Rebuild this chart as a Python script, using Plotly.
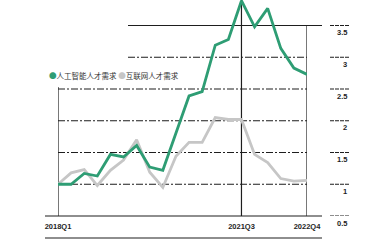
import plotly.graph_objects as go

quarters = [f"{y}Q{q}" for y in range(2018, 2023) for q in range(1, 5)]
ai_demand = [1.0, 1.0, 1.17, 1.13, 1.47, 1.43, 1.61, 1.27, 1.22, 1.80,
             2.39, 2.46, 3.19, 3.28, 3.89, 3.48, 3.77, 3.14, 2.83, 2.73]
net_demand = [1.0, 1.18, 1.23, 0.98, 1.22, 1.38, 1.70, 1.19, 0.95, 1.44,
              1.66, 1.66, 2.05, 2.02, 2.02, 1.47, 1.34, 1.09, 1.05, 1.06]
series_names = ["人工智能人才需求", "互联网人才需求"]
x_tick_labels = ["2018Q1", "2021Q3", "2022Q4"]
y_ticks = [0.5, 1, 1.5, 2, 2.5, 3, 3.5]
y_tick_labels = ["0.5", "1", "1.5", "2", "2.5", "3", "3.5"]

GREEN = "#2e9d74"
GREY = "#c6c6c6"
INK = "#1e1e1e"
W, H = 372, 240
L, R, T, B = 58, 65, 0, 24
pw, ph = W - L - R, H - T - B
n = len(quarters)
xs = list(range(n))
px_per_unit = 63.5
ytop = 0.5 + ph / px_per_unit


def pxx(px):  # pixel -> paper x
    return (px - L) / pw


def pxy(py):  # pixel -> paper y
    return (H - B - py) / ph


fig = go.Figure()
fig.add_trace(go.Scatter(x=xs, y=net_demand, mode="lines", name=series_names[1],
                         line=dict(color=GREY, width=2.8), showlegend=False, cliponaxis=False))
fig.add_trace(go.Scatter(x=xs, y=ai_demand, mode="lines", name=series_names[0],
                         line=dict(color=GREEN, width=2.8), showlegend=False, cliponaxis=False))

shapes = []
dd = "7px,2px,2px,2px"
for v in [1, 1.5, 2, 2.5]:
    shapes.append(dict(type="line", xref="x", yref="y", x0=0, x1=n - 1, y0=v, y1=v,
                       line=dict(color=INK, width=1.1, dash=dd), layer="below"))
shapes.append(dict(type="line", xref="paper", yref="y", x0=pxx(128), x1=1, y0=3, y1=3,
                   line=dict(color=INK, width=1.1, dash=dd), layer="below"))
shapes.append(dict(type="line", xref="paper", yref="y", x0=pxx(128), x1=pxx(322), y0=3.5, y1=3.5,
                   line=dict(color=INK, width=1.2), layer="below"))
# verticals
shapes.append(dict(type="line", xref="x", yref="y", x0=0, x1=0, y0=0.5, y1=2.53,
                   line=dict(color=INK, width=1.2), layer="below"))
shapes.append(dict(type="line", xref="x", yref="paper", x0=14, x1=14, y0=0, y1=1,
                   line=dict(color=INK, width=1.2), layer="below"))
shapes.append(dict(type="line", xref="x", yref="y", x0=n - 1, x1=n - 1, y0=0.5, y1=3.5,
                   line=dict(color=INK, width=1.2), layer="below"))
# bottom rules
shapes.append(dict(type="line", xref="paper", yref="paper", x0=pxx(45), x1=pxx(322), y0=0, y1=0,
                   line=dict(color=INK, width=1.2)))
shapes.append(dict(type="line", xref="paper", yref="paper", x0=pxx(45), x1=pxx(322),
                   y0=pxy(238), y1=pxy(238), line=dict(color=INK, width=1.2)))
# right tick dashes
for v in y_ticks:
    shapes.append(dict(type="line", xref="paper", yref="y", x0=pxx(330), x1=pxx(349), y0=v, y1=v,
                       line=dict(color=INK, width=1.1, dash="4px,1px")))

annotations = []
for v, t in zip(y_ticks, y_tick_labels):
    annotations.append(dict(xref="paper", yref="y", x=pxx(349), y=v, yshift=-7, text=t,
                            showarrow=False, xanchor="right", yanchor="middle",
                            font=dict(family="Liberation Sans", size=7.5, color=INK, weight="bold")))
annotations.append(dict(
    xref="paper", yref="paper", x=pxx(47), y=pxy(75), xanchor="left", yanchor="middle",
    showarrow=False,
    text=(f"<span style='color:{GREEN}'>●</span>{series_names[0]} "
          f"<span style='color:{GREY}'>●</span>{series_names[1]}"),
    font=dict(family="Noto Sans CJK SC", size=7.5, color="#333333")))

fig.update_layout(
    width=W, height=H, margin=dict(l=L, r=R, t=T, b=B),
    paper_bgcolor="white", plot_bgcolor="white",
    shapes=shapes, annotations=annotations, showlegend=False,
    xaxis=dict(range=[0, n - 1], showgrid=False, zeroline=False, showline=False,
               tickvals=[quarters.index(q) for q in x_tick_labels], ticktext=x_tick_labels,
               ticks="outside", ticklen=3, tickcolor="rgba(0,0,0,0)",
               tickfont=dict(family="Liberation Sans", size=7.5, color=INK, weight="bold")),
    yaxis=dict(range=[0.5, ytop], showgrid=False, zeroline=False, showline=False,
               showticklabels=False),
)
fig.write_html("out.html")
